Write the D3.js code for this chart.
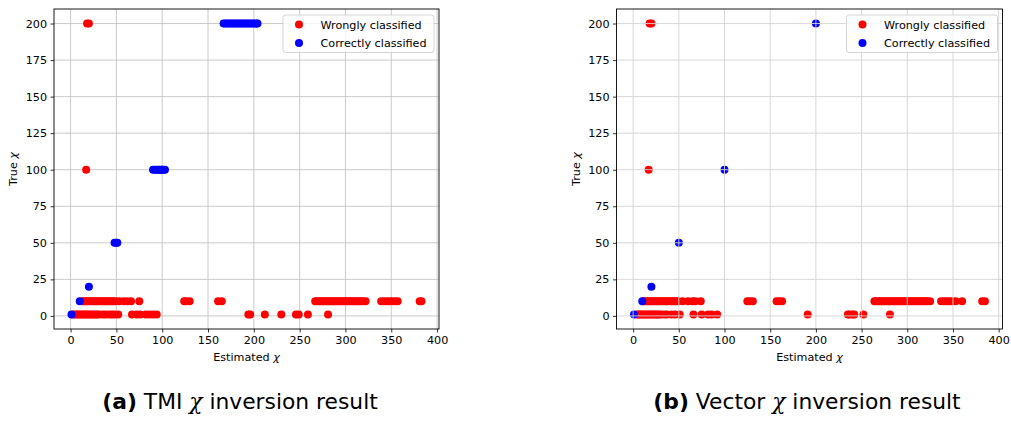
<!DOCTYPE html>
<html>
<head>
<meta charset="utf-8">
<script src="https://cdn.jsdelivr.net/npm/d3@7"></script>
<style>
  body { margin: 0; background: #fff; }
  svg { display: block; }
  text { font-family: "DejaVu Sans", sans-serif; }
</style>
</head>
<body>
<svg id="fig" width="1011" height="422"></svg>
<script>
// Estimated χ values grouped by true χ level.
// TMI inversion
const tmiWrong200 = [18, 20];
const tmiWrong100 = [17];
const tmiWrong10 = [13, 15, 17, 19, 21, 23, 25, 27, 29, 31, 33, 35, 37, 39, 41, 43, 45, 47, 49,
  53, 58, 62, 66, 75, 124, 126, 130, 161, 165,
  267, 269, 271, 273, 275, 277, 279, 281, 283, 285, 287, 289, 291, 293, 295, 297, 299, 301,
  303, 305, 307, 309, 311, 313, 315, 317, 319, 322, 339, 342, 345, 348, 351, 354, 357, 381, 383];
const tmiWrong1 = [3, 5, 7, 9, 11, 13, 15, 17, 19, 21, 23, 25, 27, 29, 31, 35, 38, 42, 45, 48, 52,
  67, 72, 76, 82, 86, 90, 94, 194, 196, 212, 230, 246, 249, 259, 281];
const tmiCorrect1 = [1];
const tmiCorrect10 = [10];
const tmiCorrect20 = [20];
const tmiCorrect50 = [48, 50, 51];
const tmiCorrect100 = [90, 92, 94, 96, 97, 99, 100, 101, 103];
const tmiCorrect200 = [167, 169, 171, 173, 175, 177, 179, 181, 183, 185, 187, 189, 191, 193,
  195, 197, 199, 201, 203, 204];

// Vector inversion
const vecWrong200 = [18, 20];
const vecWrong100 = [17];
const vecWrong10 = [11, 13, 15, 17, 19, 21, 23, 25, 27, 29, 31, 33, 35, 37, 39, 41, 43, 45, 47, 49,
  54, 60, 65, 68, 74, 125, 128, 131, 157, 160, 163,
  264, 266, 268, 270, 272, 274, 276, 278, 280, 282, 284, 286, 288, 290, 292, 294, 296, 298, 300,
  302, 304, 306, 308, 310, 312, 314, 316, 318, 320, 322, 325, 337, 340, 343, 346, 349, 353, 360, 382, 385];
const vecWrong1 = [4, 6, 8, 10, 12, 14, 16, 18, 20, 22, 24, 26, 28, 30, 34, 37, 42, 46, 51,
  66, 75, 82, 86, 92, 191, 235, 237, 240, 242, 252, 281];
const vecCorrect1 = [1];
const vecCorrect10 = [10];
const vecCorrect20 = [20];
const vecCorrect50 = [50];
const vecCorrect100 = [100];
const vecCorrect200 = [200];

const xTicks = [0, 50, 100, 150, 200, 250, 300, 350, 400];
const yTicks = [0, 25, 50, 75, 100, 125, 150, 175, 200];
const legendLabels = ["Wrongly classified", "Correctly classified"];
const classColors = ["#ff0000", "#0000ff"];

const FS = 11.2; // small text size

function pairs(level, xs) { return xs.map(v => [v, level]); }

const tmiWrong = [].concat(pairs(200, tmiWrong200), pairs(100, tmiWrong100),
  pairs(10, tmiWrong10), pairs(1, tmiWrong1));
const tmiCorrect = [].concat(pairs(1, tmiCorrect1), pairs(10, tmiCorrect10), pairs(20, tmiCorrect20),
  pairs(50, tmiCorrect50), pairs(100, tmiCorrect100), pairs(200, tmiCorrect200));
const vecWrong = [].concat(pairs(200, vecWrong200), pairs(100, vecWrong100),
  pairs(10, vecWrong10), pairs(1, vecWrong1));
const vecCorrect = [].concat(pairs(1, vecCorrect1), pairs(10, vecCorrect10), pairs(20, vecCorrect20),
  pairs(50, vecCorrect50), pairs(100, vecCorrect100), pairs(200, vecCorrect200));

const svg = d3.select("#fig");

function padded(ext) {
  const m = (ext[1] - ext[0]) * 0.05;
  return [ext[0] - m, ext[1] + m];
}

function chiLabel(sel, prefix) {
  sel.append("tspan").text(prefix);
  sel.append("tspan").attr("font-style", "italic").text("χ");
}

function panel(cfg) {
  const { left, right, top, bottom } = cfg.box;
  const g = svg.append("g");
  const all = cfg.wrong.concat(cfg.correct);
  const x = d3.scaleLinear().domain(padded(d3.extent(all, d => d[0]))).range([left, right]);
  const y = d3.scaleLinear().domain(padded(d3.extent(all, d => d[1]))).range([bottom, top]);

  const drawGrid = () => {
    const grid = g.append("g").attr("class", "grid");
    grid.selectAll("line.gx").data(xTicks).join("line")
      .attr("x1", d => x(d)).attr("x2", d => x(d))
      .attr("y1", top).attr("y2", bottom)
      .attr("stroke", cfg.gridColor).attr("stroke-width", 0.9);
    grid.selectAll("line.gy").data(yTicks).join("line")
      .attr("y1", d => y(d)).attr("y2", d => y(d))
      .attr("x1", left).attr("x2", right)
      .attr("stroke", cfg.gridColor).attr("stroke-width", 0.9);
  };

  if (!cfg.gridOnTop) drawGrid();

  const sets = [cfg.wrong, cfg.correct];
  sets.forEach((pts, i) => {
    g.append("g").selectAll("circle").data(pts).join("circle")
      .attr("cx", d => x(d[0])).attr("cy", d => y(d[1]))
      .attr("r", 4).attr("fill", classColors[i]);
  });

  if (cfg.gridOnTop) drawGrid();

  // Axes
  const xAxis = g.append("g").attr("transform", `translate(0,${bottom})`)
    .call(d3.axisBottom(x).tickValues(xTicks).tickSize(3.5).tickPadding(3.5).tickFormat(d3.format("d")));
  const yAxis = g.append("g").attr("transform", `translate(${left},0)`)
    .call(d3.axisLeft(y).tickValues(yTicks).tickSize(3.5).tickPadding(3.5).tickFormat(d3.format("d")));
  [xAxis, yAxis].forEach(a => {
    a.select(".domain").remove();
    a.selectAll("text").attr("font-size", FS).attr("fill", "#000")
      .attr("font-family", "DejaVu Sans, sans-serif");
    a.selectAll("line").attr("stroke", "#000").attr("stroke-width", 0.8);
  });

  // Frame
  g.append("rect").attr("x", left).attr("y", top)
    .attr("width", right - left).attr("height", bottom - top)
    .attr("fill", "none").attr("stroke", "#000").attr("stroke-width", 0.9);

  // Axis titles
  g.append("text").attr("x", (left + right) / 2).attr("y", 361)
    .attr("text-anchor", "middle").attr("font-size", FS).call(chiLabel, "Estimated ");
  g.append("text").attr("transform", `translate(${left - 37},${(top + bottom) / 2}) rotate(-90)`)
    .attr("text-anchor", "middle").attr("font-size", FS).call(chiLabel, "True ");

  // Legend
  const lw = 151, lh = 37.5;
  const lx = right - 5 - lw, ly = top + 6;
  const lg = g.append("g");
  lg.append("rect").attr("x", lx).attr("y", ly).attr("width", lw).attr("height", lh)
    .attr("rx", 2.5).attr("fill", "#fff").attr("fill-opacity", 0.8)
    .attr("stroke", "#d0d0d0").attr("stroke-width", 0.9);
  legendLabels.forEach((lab, i) => {
    const cy = ly + 9.5 + i * 18.4;
    lg.append("circle").attr("cx", lx + 16).attr("cy", cy).attr("r", 4).attr("fill", classColors[i]);
    lg.append("text").attr("x", lx + 37.5).attr("y", cy + 4)
      .attr("font-size", FS).attr("fill", "#000").text(lab);
  });

  // Caption
  const cap = svg.append("text").attr("x", cfg.captionX).attr("y", 409)
    .attr("text-anchor", "middle").attr("font-size", 21.8)
    .attr("font-family", "Liberation Sans, Arial, sans-serif").attr("fill", "#000");
  cap.append("tspan").attr("font-weight", "bold").text(cfg.tag);
  cap.append("tspan").text(" " + cfg.name + " ");
  cap.append("tspan").attr("font-style", "italic")
    .attr("font-family", "DejaVu Serif, serif").text("χ");
  cap.append("tspan").text(" inversion result");
}

panel({
  box: { left: 54, right: 439, top: 9, bottom: 329 },
  wrong: tmiWrong, correct: tmiCorrect,
  gridOnTop: false, gridColor: "#c4c4c4",
  tag: "(a)", name: "TMI", captionX: 240
});
panel({
  box: { left: 616.5, right: 1002.5, top: 9, bottom: 329 },
  wrong: vecWrong, correct: vecCorrect,
  gridOnTop: true, gridColor: "#d4d4d4",
  tag: "(b)", name: "Vector", captionX: 807
});
</script>
</body>
</html>
